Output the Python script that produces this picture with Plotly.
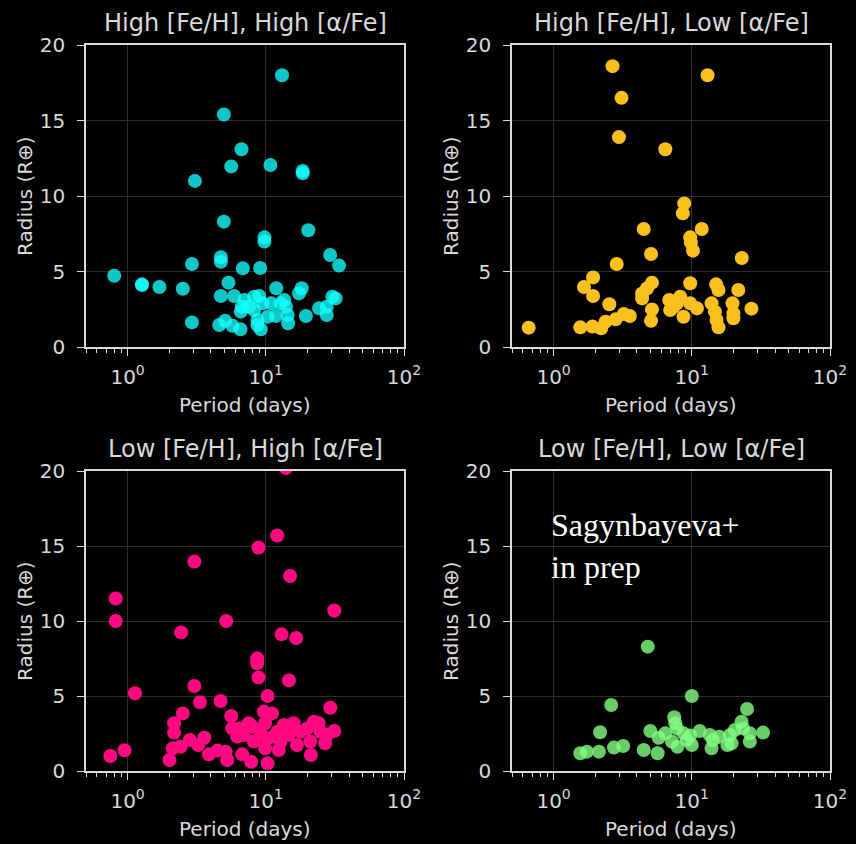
import plotly.graph_objects as go
import math

W, H = 856, 844

# ---- data (Period in days, Radius in Earth radii) ----
hh_period = [13.1, 4.97, 6.67, 5.62, 10.8, 18.5, 18.5, 3.07, 4.97, 20.3, 9.78, 9.78, 29.2, 33.9,
             4.73, 4.73, 2.92, 6.82, 9.1, 0.80, 1.27, 1.27, 1.70, 2.51, 5.37, 4.73, 5.90, 7.01,
             8.24, 8.95, 11.9, 13.6, 14.0, 18.2, 17.4, 30.3, 32.0, 24.3, 27.6, 27.6, 19.5, 2.92,
             4.60, 5.08, 5.74, 6.56, 6.59, 6.7, 8.7, 8.7, 9.2, 8.24, 10.3, 11.8, 14.4, 14.5,
             10.9, 12.8, 7.58, 9.46]
hh_radius = [18.0, 15.4, 13.1, 11.96, 12.05, 11.66, 11.5, 11.0, 8.3, 7.73, 7.26, 6.98, 6.09, 5.39,
             5.94, 5.65, 5.5, 5.21, 5.23, 4.72, 4.15, 4.1, 3.97, 3.86, 4.26, 3.38, 3.38, 3.11,
             3.33, 3.38, 3.89, 3.11, 2.67, 3.89, 3.55, 3.33, 3.22, 2.56, 2.67, 2.12, 2.05, 1.63,
             1.46, 1.74, 1.41, 1.17, 2.34, 2.67, 1.79, 1.46, 1.17, 2.45, 2.0, 2.05, 2.12, 1.57,
             2.89, 2.89, 2.67, 2.89]

hl_period = [2.67, 13.0, 3.10, 2.97, 6.43, 8.81, 8.61, 4.49, 11.8, 9.73, 9.84, 10.2, 5.07, 23.0,
             2.86, 1.93, 1.66, 1.93, 2.53, 1.56, 1.91, 2.21, 2.38, 2.81, 3.22, 3.56, 0.66, 5.15,
             4.75, 4.37, 4.37, 5.15, 5.07, 9.73, 15.0, 15.6, 21.7, 27.0, 6.87, 8.24, 7.38, 8.71,
             9.73, 10.9, 13.9, 14.7, 15.1, 15.6, 19.7, 20.0, 20.0, 7.80, 6.98]
hl_radius = [18.6, 18.0, 16.5, 13.9, 13.1, 9.51, 8.85, 7.81, 7.81, 7.26, 6.93, 6.38, 6.16, 5.89,
             5.5, 4.61, 3.97, 3.38, 2.83, 1.30, 1.35, 1.24, 1.68, 1.83, 2.19, 2.05, 1.28, 4.26,
             3.89, 3.55, 3.22, 2.49, 1.74, 4.22, 4.15, 3.77, 3.77, 2.54, 3.11, 3.33, 2.67, 2.0,
             2.89, 2.56, 2.89, 2.34, 1.79, 1.30, 2.89, 2.23, 1.9, 2.89, 2.45]

lh_period = [14.0, 12.1, 8.85, 3.04, 15.0, 0.82, 0.82, 5.17, 31.3, 2.44, 13.0, 16.6, 8.66, 8.66,
             8.85, 14.7, 3.04, 1.13, 10.3, 3.34, 4.71, 29.3, 2.51, 2.17, 2.17, 2.12, 2.42, 2.01,
             0.75, 0.95, 2.82, 3.59, 3.24, 3.88, 4.46, 5.12, 5.26, 6.75, 7.84, 10.3, 5.62, 5.72,
             6.38, 7.54, 6.93, 8.19, 9.68, 11.1, 9.88, 9.1, 10.2, 9.88, 12.1, 12.8, 12.4, 13.5,
             15.9, 14.6, 17.8, 19.9, 22.2, 24.1, 21.0, 21.2, 26.9, 27.7, 31.3, 24.8, 16.8, 11.4,
             7.96, 6.21]
lh_radius = [20.2, 15.7, 14.9, 13.96, 13.0, 11.5, 10.0, 10.0, 10.7, 9.24, 9.11, 8.87, 7.51, 7.18,
             6.24, 6.04, 5.67, 5.18, 5.0, 4.58, 4.67, 4.22, 3.84, 3.18, 2.56, 1.51, 1.62, 0.73,
             1.0, 1.38, 2.07, 2.22, 1.73, 1.11, 1.36, 1.29, 0.73, 1.11, 0.62, 0.51, 3.67, 2.84,
             2.84, 3.18, 2.4, 1.96, 3.96, 3.84, 3.18, 2.62, 2.18, 1.51, 2.62, 1.96, 1.4, 3.07,
             3.18, 2.4, 2.62, 2.84, 3.29, 3.18, 1.96, 1.07, 1.84, 2.4, 2.67, 2.62, 1.73, 2.29,
             2.96, 2.29]

ll_period = [4.80, 10.0, 2.61, 25.1, 2.17, 1.56, 1.74, 2.13, 2.73, 3.19, 4.49, 5.66, 5.01, 5.76,
             6.43, 7.46, 7.59, 7.80, 7.18, 7.88, 8.71, 9.2, 10.0, 9.73, 11.4, 13.5, 14.2, 13.9,
             15.8, 18.1, 19.4, 18.9, 20.5, 22.9, 23.5, 26.3, 26.3, 32.8]
ll_radius = [8.29, 5.0, 4.4, 4.13, 2.58, 1.18, 1.29, 1.29, 1.56, 1.67, 1.4, 1.18, 2.67, 2.22,
             2.51, 3.58, 3.18, 2.84, 1.96, 1.62, 2.51, 2.07, 1.73, 2.36, 2.67, 2.4, 2.07, 1.51,
             2.29, 1.73, 1.84, 2.4, 2.73, 3.29, 2.84, 2.51, 1.96, 2.56]

titles = ["High [Fe/H], High [α/Fe]", "High [Fe/H], Low [α/Fe]",
          "Low [Fe/H], High [α/Fe]", "Low [Fe/H], Low [α/Fe]"]
x_label = "Period (days)"
y_label = "Radius (R⊕)"
x_tickvals = [1, 10, 100]
x_ticktext = ["10<sup>0</sup>", "10<sup>1</sup>", "10<sup>2</sup>"]
y_tickvals = [0, 5, 10, 15, 20]
minor_vals = [0.5, 0.6, 0.7, 0.8, 0.9] + [k for k in range(2, 10)] + [10 * k for k in range(2, 10)]

# ---- layout geometry (pixels) ----
panels = [
    dict(x0=86, x1=404, y0=45, y1=347),
    dict(x0=512, x1=830, y0=45, y1=347),
    dict(x0=86, x1=404, y0=471, y1=771),
    dict(x0=512, x1=830, y0=471, y1=771),
]
series = [
    (hh_period, hh_radius, "rgb(20,255,255)", 0.78),
    (hl_period, hl_radius, "rgb(251,192,30)", 1.0),
    (lh_period, lh_radius, "rgb(255,8,130)", 1.0),
    (ll_period, ll_radius, "rgb(130,255,130)", 0.8),
]

FG = "#d9d9d9"
GRID = "#2e2e2e"
FONT = "DejaVu Sans"

fig = go.Figure()
layout = dict(
    width=W, height=H,
    paper_bgcolor="black", plot_bgcolor="black",
    margin=dict(l=0, r=0, t=0, b=0),
    showlegend=False,
    font=dict(family=FONT, color=FG, size=20),
    annotations=[],
)

for i, (p, s) in enumerate(zip(panels, series)):
    n = "" if i == 0 else str(i + 1)
    fig.add_trace(go.Scatter(
        x=s[0], y=s[1], mode="markers",
        marker=dict(size=14, color=s[2], opacity=s[3], line=dict(width=0)),
        xaxis="x" + n, yaxis="y" + n, cliponaxis=True,
    ))
    layout["xaxis" + n] = dict(
        domain=[p["x0"] / W, p["x1"] / W], anchor="y" + n, automargin=False,
        type="log", range=[math.log10(0.5), 2],
        tickvals=x_tickvals, ticktext=x_ticktext,
        ticks="outside", ticklen=7, tickwidth=1.2, tickcolor=FG,
        tickfont=dict(size=20, color=FG), ticklabelstandoff=4,
        showline=True, linecolor=FG, linewidth=1.5, mirror=True,
        showgrid=True, gridcolor=GRID, gridwidth=1,
        zeroline=False,
        minor=dict(tickvals=minor_vals, ticks="outside", ticklen=4, tickcolor=FG, showgrid=False),
    )
    layout["yaxis" + n] = dict(
        domain=[1 - p["y1"] / H, 1 - p["y0"] / H], anchor="x" + n, automargin=False,
        range=[0, 20], tickvals=y_tickvals,
        ticks="outside", ticklen=7, tickwidth=1.2, tickcolor=FG,
        tickfont=dict(size=20, color=FG), ticklabelstandoff=8,
        showline=True, linecolor=FG, linewidth=1.5, mirror=True,
        showgrid=True, gridcolor=GRID, gridwidth=1,
        zeroline=False,
    )
    # subplot title
    layout["annotations"].append(dict(
        text=titles[i], xref="paper", yref="paper",
        x=(p["x0"] + p["x1"]) / 2 / W, y=1 - (p["y0"] - 22) / H,
        xanchor="center", yanchor="middle", showarrow=False,
        font=dict(size=24, color=FG, family=FONT),
    ))
    # x axis title
    layout["annotations"].append(dict(
        text=x_label, xref="paper", yref="paper",
        x=(p["x0"] + p["x1"]) / 2 / W, y=1 - (p["y1"] + 58) / H,
        xanchor="center", yanchor="middle", showarrow=False,
        font=dict(size=20, color=FG, family=FONT),
    ))
    # y axis title
    layout["annotations"].append(dict(
        text=y_label, xref="paper", yref="paper",
        x=(p["x0"] - 61) / W, y=1 - (p["y0"] + p["y1"]) / 2 / H,
        xanchor="center", yanchor="middle", showarrow=False, textangle=-90,
        font=dict(size=20, color=FG, family=FONT),
    ))

layout["annotations"].append(dict(
    text="Sagynbayeva+<br>in prep", xref="paper", yref="paper",
    x=549 / W, y=1 - 505 / H, xanchor="left", yanchor="top", align="left",
    showarrow=False, font=dict(size=32, color="white", family="Liberation Serif"),
))

fig.update_layout(**layout)
fig.write_html("out.html")
